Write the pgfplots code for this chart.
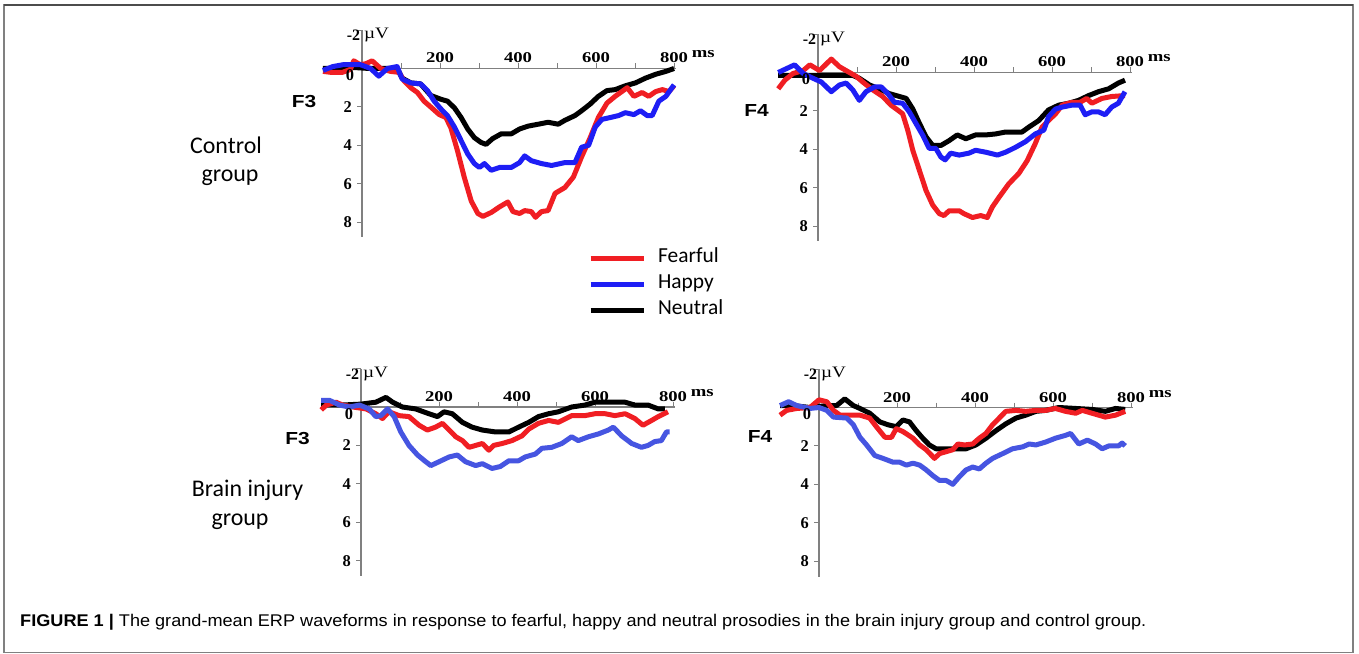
\documentclass[border=0pt]{standalone}
\usepackage{fontspec}
\setmainfont{Liberation Serif}
\newfontfamily\tnr{Liberation Serif}
\newfontfamily\arial{Liberation Sans}
\newfontfamily\carlito{Carlito}
\usepackage{pgfplots}
\pgfplotsset{compat=1.18}

\definecolor{erpred}{RGB}{240,30,35}
\definecolor{erpblue}{RGB}{30,30,245}
\definecolor{erpblue2}{RGB}{70,85,225}
\definecolor{axisgray}{RGB}{128,128,128}

\pgfplotsset{
  erp/.style={
    scale only axis, width=314bp, height=207.4bp,
    xmin=0, xmax=805, ymin=-2, ymax=8.8, y dir=reverse,
    axis lines=middle, axis line style={-, draw=axisgray, line width=1.5bp},
    clip=false, anchor=south west,
    xtick={100,200,...,800}, xticklabels={,200,,400,,600,,800},
    ytick={-2,2,4,6,8}, yticklabels={,2,4,6,8},
    tick style={draw=axisgray, line width=1bp},
    major tick length=5bp, tick align=outside,
    xticklabel style={font=\tnr\bfseries\fontsize{15}{15}\selectfont,
      anchor=base, yshift=10.5bp, xscale=1.25, inner sep=0pt},
    yticklabel style={font=\tnr\bfseries\fontsize{16.5}{16.5}\selectfont,
      anchor=east, inner sep=0pt, xshift=-5bp},
    every axis plot/.append style={line width=5bp, line join=round},
  },
}
\newcommand{\panelextras}{%
  \node[font=\tnr\bfseries\fontsize{16.5}{16.5}\selectfont] at (axis cs:-31,0.35) {0};
  \node[font=\tnr\bfseries\fontsize{16}{16}\selectfont] at (axis cs:-22,-1.72) {-2};
  \node[font=\tnr\fontsize{16}{16}\selectfont, xscale=1.2] at (axis cs:37,-1.72) {µV};
  \node[font=\tnr\bfseries\fontsize{15}{15}\selectfont, xscale=1.25, anchor=base west, inner sep=0pt,
    xshift=14bp, yshift=10.5bp] at (axis cs:800,0) {ms};
}

\begin{document}
\begin{tikzpicture}
\useasboundingbox (0bp,0bp) rectangle (1359bp,654bp);

% control group, F3
\begin{axis}[erp, at={(362bp,416.5bp)},
  legend style={at={(0.710,-0.043)}, anchor=north west, draw=none, fill=none,
    font=\carlito\fontsize{21.5}{21.5}\selectfont,
    nodes={inner sep=0pt, text height=14bp, text depth=5bp},
    row sep=7bp, column sep=12bp},
  legend cell align=left,
  legend image code/.code={\draw[#1, line width=5bp] (0bp,0bp) -- (53bp,0bp);}]
\addplot[black, forget plot] coordinates {(-100,0) (-60,0) (-20,-0.05) (20,0) (60,0) (90,0) (103,0.5) (125,0.75) (150,0.8) (176,1.4) (202,1.6) (219,1.7) (237,2.05) (254,2.55) (271,3.15) (288,3.6) (305,3.85) (318,3.95) (335,3.65) (357,3.4) (383,3.4) (404,3.15) (426,3.0) (452,2.9) (477,2.8) (503,2.9) (520,2.7) (546,2.45) (563,2.2) (585,1.85) (606,1.45) (628,1.15) (649,1.1) (675,0.9) (701,0.75) (727,0.5) (753,0.3) (779,0.15) (800,0)};
\addplot[erpred, forget plot] coordinates {(-100,0.15) (-80,0.2) (-50,0.2) (-30,0.05) (-21,-0.4) (-5,-0.2) (10,-0.25) (26,-0.4) (48,0) (73,0.15) (95,0.2) (108,0.65) (125,1.0) (142,1.25) (159,1.7) (176,2.0) (198,2.4) (215,2.55) (228,3.1) (245,4.3) (262,5.65) (280,6.9) (297,7.55) (310,7.7) (331,7.5) (353,7.2) (374,6.95) (387,7.45) (404,7.55) (417,7.4) (434,7.45) (445,7.75) (460,7.45) (477,7.4) (495,6.5) (520,6.2) (542,5.65) (563,4.6) (585,3.6) (606,2.55) (628,1.8) (649,1.45) (680,1.0) (697,1.45) (718,1.25) (735,1.45) (753,1.2) (770,1.1) (787,1.2) (800,0.9)};
\addplot[erpblue, forget plot] coordinates {(-100,0.1) (-75,-0.1) (-48,-0.2) (-4,-0.2) (22,0) (43,0.4) (65,0) (90,-0.1) (103,0.55) (125,0.75) (150,0.8) (168,1.15) (185,1.7) (202,2.1) (219,2.45) (237,3.05) (254,3.75) (271,4.45) (288,4.95) (301,5.15) (314,4.95) (331,5.3) (353,5.15) (383,5.15) (404,4.9) (417,4.55) (434,4.8) (460,4.95) (486,5.05) (520,4.9) (546,4.9) (563,4.1) (581,4.0) (598,3.05) (615,2.65) (637,2.55) (658,2.45) (675,2.3) (697,2.4) (714,2.2) (731,2.45) (744,2.45) (761,1.7) (779,1.45) (800,0.85)};
\addlegendimage{erpred}\addlegendentry{Fearful}
\addlegendimage{erpblue}\addlegendentry{Happy}
\addlegendimage{black}\addlegendentry{Neutral}
\panelextras
\end{axis}

% control group, F4
\begin{axis}[erp, at={(818bp,412.5bp)}]
\addplot[black] coordinates {(-102,0.15) (-50,0.15) (0,0.15) (50,0.15) (89,0.15) (106,0.3) (132,0.65) (157,0.85) (183,1.1) (209,1.25) (226,1.35) (243,1.9) (260,2.65) (277,3.35) (294,3.8) (315,3.8) (336,3.55) (357,3.25) (379,3.45) (404,3.25) (430,3.25) (455,3.2) (481,3.1) (523,3.1) (540,2.85) (566,2.5) (591,1.95) (617,1.7) (643,1.6) (668,1.45) (694,1.2) (719,1.0) (745,0.85) (770,0.55) (787,0.4)};
\addplot[erpred] coordinates {(-102,0.85) (-85,0.4) (-64,0.05) (-38,-0.1) (-21,-0.4) (4,-0.1) (34,-0.7) (55,-0.3) (72,-0.1) (98,0.2) (115,0.5) (140,0.9) (166,1.25) (187,1.7) (204,1.95) (217,2.15) (230,3.0) (243,4.05) (260,5.1) (277,6.15) (294,6.9) (311,7.35) (323,7.45) (336,7.2) (362,7.2) (374,7.35) (396,7.55) (417,7.45) (434,7.55) (447,7.0) (464,6.5) (489,5.8) (515,5.25) (536,4.6) (557,3.7) (574,2.85) (591,2.5) (609,2.15) (626,1.7) (651,1.55) (672,1.55) (689,1.35) (702,1.6) (728,1.35) (753,1.25) (787,1.2)};
\addplot[erpblue] coordinates {(-102,0) (-81,-0.2) (-60,-0.4) (-38,0.05) (-13,0.3) (9,0.5) (34,1.0) (55,0.65) (72,0.55) (89,0.9) (106,1.45) (123,1.0) (145,0.75) (162,0.75) (179,1.1) (196,1.55) (217,1.6) (234,2.05) (251,2.65) (268,3.25) (285,3.95) (302,3.95) (315,4.4) (326,4.55) (340,4.2) (362,4.3) (387,4.2) (404,4.05) (430,4.15) (460,4.3) (481,4.15) (506,3.9) (532,3.6) (557,3.2) (579,3.0) (591,2.3) (609,1.9) (626,1.8) (651,1.7) (672,1.7) (685,2.2) (702,2.05) (719,2.05) (736,2.2) (753,1.8) (770,1.6) (787,1.0)};
\panelextras
\end{axis}

% brain injury group, F3
\begin{axis}[erp, at={(361bp,78bp)}]
\addplot[black] coordinates {(-102,-0.1) (-50,-0.1) (0,-0.15) (38,-0.25) (64,-0.5) (81,-0.25) (106,0) (140,0.1) (174,0.35) (196,0.5) (213,0.25) (234,0.35) (260,0.8) (285,1.05) (311,1.2) (345,1.3) (379,1.3) (404,1.05) (430,0.8) (455,0.5) (481,0.35) (506,0.25) (540,0) (574,-0.1) (600,-0.25) (634,-0.25) (677,-0.25) (702,-0.1) (736,-0.1) (762,0.1) (779,0.1)};
\addplot[erpred] coordinates {(-102,0.15) (-89,-0.1) (-64,-0.25) (-47,-0.1) (-21,0) (13,0.1) (38,0.35) (55,0.6) (72,0.25) (98,0.45) (123,0.5) (149,0.95) (170,1.2) (191,1.05) (209,0.85) (226,1.2) (243,1.55) (260,1.75) (277,2.1) (294,2.0) (311,1.9) (328,2.25) (340,2.0) (362,1.9) (387,1.75) (413,1.5) (430,1.15) (455,0.85) (481,0.7) (506,0.8) (540,0.45) (574,0.45) (600,0.35) (626,0.35) (651,0.45) (677,0.35) (702,0.6) (723,0.95) (745,0.7) (762,0.5) (787,0.25)};
\addplot[erpblue2] coordinates {(-102,-0.35) (-81,-0.35) (-55,-0.1) (-30,0) (-4,-0.1) (21,0.1) (38,0.5) (51,0.45) (68,0.1) (85,0.5) (102,1.3) (123,2.0) (145,2.5) (166,2.85) (179,3.05) (200,2.85) (226,2.6) (247,2.5) (268,2.85) (294,3.05) (311,2.95) (336,3.2) (357,3.1) (379,2.8) (404,2.8) (421,2.6) (447,2.45) (464,2.15) (489,2.1) (515,1.9) (540,1.55) (557,1.75) (583,1.55) (609,1.4) (634,1.2) (647,1.05) (668,1.5) (694,1.9) (719,2.1) (736,2.0) (753,1.8) (770,1.75) (783,1.3) (791,1.3)};
\panelextras
\end{axis}

% brain injury group, F4
\begin{axis}[erp, at={(819bp,77.5bp)}]
\addplot[black] coordinates {(-100,-0.1) (-66,-0.1) (-23,0) (20,-0.1) (45,-0.1) (66,-0.45) (88,-0.1) (105,0.05) (130,0.3) (156,0.75) (177,0.9) (198,1.0) (215,0.65) (232,0.75) (249,1.2) (266,1.6) (283,1.95) (300,2.15) (326,2.15) (351,2.15) (377,2.15) (402,1.95) (428,1.6) (454,1.2) (479,0.85) (505,0.55) (530,0.4) (556,0.2) (581,0.15) (615,0) (658,0.05) (700,0.1) (734,0.2) (760,0.05) (785,0.1)};
\addplot[erpred] coordinates {(-100,0.4) (-83,0.15) (-57,0.05) (-23,0) (0,-0.4) (20,-0.3) (37,0.15) (54,0.4) (79,0.4) (105,0.4) (130,0.55) (147,1.0) (169,1.55) (186,1.55) (198,1.1) (215,1.25) (241,1.6) (258,1.95) (275,2.2) (296,2.65) (309,2.4) (326,2.3) (343,2.2) (356,1.9) (373,1.95) (394,1.9) (411,1.6) (428,1.35) (445,0.9) (462,0.55) (479,0.2) (505,0.15) (530,0.2) (556,0.15) (581,0.15) (606,0.05) (632,0.2) (658,0.3) (675,0.15) (700,0.3) (734,0.5) (760,0.4) (785,0.2)};
\addplot[erpblue2] coordinates {(-100,-0.1) (-78,-0.3) (-57,-0.1) (-23,0.05) (0,0) (20,0.15) (37,0.5) (71,0.55) (88,0.9) (105,1.55) (122,1.95) (143,2.5) (164,2.65) (190,2.85) (207,2.85) (224,3.0) (241,2.9) (258,3.0) (275,3.25) (292,3.55) (309,3.8) (326,3.8) (343,4.0) (360,3.6) (377,3.25) (394,3.1) (411,3.2) (428,2.9) (445,2.65) (471,2.4) (496,2.15) (522,2.05) (539,1.9) (556,1.95) (581,1.8) (606,1.6) (632,1.45) (645,1.35) (666,1.9) (688,1.7) (709,1.9) (726,2.15) (743,2.0) (768,2.0) (777,1.85) (785,2.0)};
\panelextras
\end{axis}

% electrode and group labels
\begin{scope}[every node/.style={inner sep=0pt, anchor=base}]
\node[font=\arial\bfseries\fontsize{17.5}{17.5}\selectfont, xscale=1.2] at (304bp,546bp) {F3};
\node[font=\arial\bfseries\fontsize{17.5}{17.5}\selectfont, xscale=1.2] at (756.5bp,537.5bp) {F4};
\node[font=\arial\bfseries\fontsize{17.5}{17.5}\selectfont, xscale=1.2] at (297.5bp,209bp) {F3};
\node[font=\arial\bfseries\fontsize{17.5}{17.5}\selectfont, xscale=1.2] at (760bp,211bp) {F4};
\node[font=\carlito\fontsize{24}{24}\selectfont] at (226bp,500bp) {Control};
\node[font=\carlito\fontsize{24}{24}\selectfont] at (230bp,472bp) {group};
\node[font=\carlito\fontsize{24}{24}\selectfont] at (247.5bp,157bp) {Brain injury};
\node[font=\carlito\fontsize{24}{24}\selectfont] at (240bp,128bp) {group};
\node[font=\arial\fontsize{17}{17}\selectfont, xscale=1.07, anchor=base west] at (20bp,28bp)
  {{\bfseries FIGURE 1 |} The grand-mean ERP waveforms in response to fearful, happy and neutral prosodies in the brain injury group and control group.};
\end{scope}

% frame
\draw[axisgray, line width=1.5bp] (4bp,1.5bp) rectangle (1353bp,649bp);
\draw[gray!60!black, line width=1.5bp] (4bp,649bp) -- (1353bp,649bp);
\end{tikzpicture}
\end{document}
